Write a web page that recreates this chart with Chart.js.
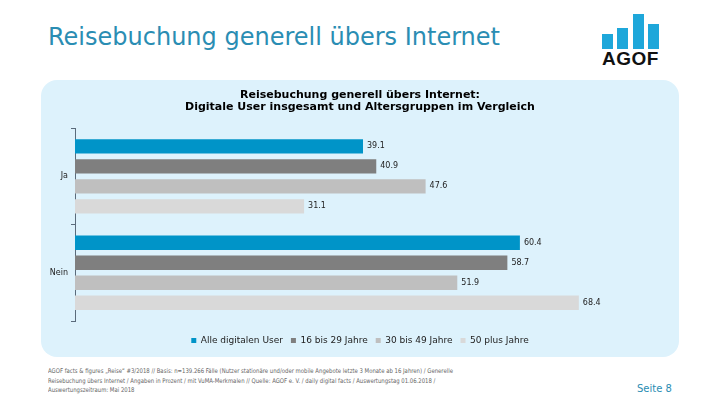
<!DOCTYPE html>
<html>
<head>
  <title>Reisebuchung generell übers Internet</title>
  <script src="https://cdn.jsdelivr.net/npm/chart.js"></script>
  <style>
    body { margin: 0; width: 720px; height: 405px; background: #fff; position: relative; overflow: hidden; font-family: "DejaVu Sans", sans-serif; }
    #pageTitle { position: absolute; left: 48px; top: 23px; font-size: 24px; color: #2a8db3; white-space: nowrap; }
    #panel { position: absolute; left: 41px; top: 80px; width: 638px; height: 277px; background: #ddf2fc; border-radius: 16px; }
    #chartBox { position: absolute; left: 41px; top: 80px; width: 638px; height: 277px; }
    .lb { position: absolute; background: #1ea7da; }
    #logoText { position: absolute; left: 602px; top: 48px; font-family: "Liberation Sans", Arial, sans-serif; font-weight: bold; font-size: 19px; letter-spacing: 0.5px; color: #111; }
    #footer { position: absolute; left: 48px; top: 367px; font-size: 6.4px; line-height: 9.5px; color: #666; white-space: nowrap; transform: scaleX(0.835); transform-origin: left top; }
    #seite { position: absolute; left: 637px; top: 383px; font-size: 10px; color: #2a8db3; }
  </style>
</head>
<body>
  <div id="pageTitle">Reisebuchung generell übers Internet</div>

  <!-- AGOF logo -->
  <div class="lb" style="left:602px; top:34px; width:11px; height:15px;"></div>
  <div class="lb" style="left:617px; top:28px; width:11px; height:21px;"></div>
  <div class="lb" style="left:633px; top:14px; width:11px; height:35px;"></div>
  <div class="lb" style="left:648px; top:24px; width:11px; height:25px;"></div>
  <div id="logoText">AGOF</div>

  <div id="panel"></div>
  <div id="chartBox"><canvas id="chart" width="638" height="277"></canvas></div>

  <div id="footer">AGOF facts &amp; figures „Reise“ #3/2018 // Basis: n=139.266 Fälle (Nutzer stationäre und/oder mobile Angebote letzte 3 Monate ab 16 Jahren) / Generelle<br>Reisebuchung übers Internet / Angaben in Prozent / mit VuMA-Merkmalen // Quelle: AGOF e. V. / daily digital facts / Auswertungstag 01.06.2018 /<br>Auswertungszeitraum: Mai 2018</div>
  <div id="seite">Seite 8</div>

  <script>
    const categories = ['Ja', 'Nein'];
    const seriesNames = ['Alle digitalen User', '16 bis 29 Jahre', '30 bis 49 Jahre', '50 plus Jahre'];
    const alleUser = [39.1, 60.4];
    const jahre16bis29 = [40.9, 58.7];
    const jahre30bis49 = [47.6, 51.9];
    const jahre50plus = [31.1, 68.4];
    const colors = ['#0094c8', '#7f7f7f', '#bfbfbf', '#d9d9d9'];

    // value labels at the end of each bar
    const valueLabels = {
      id: 'valueLabels',
      afterDatasetsDraw(chart) {
        const ctx = chart.ctx;
        ctx.save();
        ctx.font = '8px "DejaVu Sans"';
        ctx.fillStyle = '#222';
        ctx.textBaseline = 'middle';
        chart.data.datasets.forEach((ds, i) => {
          chart.getDatasetMeta(i).data.forEach((bar, j) => {
            ctx.fillText(ds.data[j].toFixed(1), bar.x + 4, bar.y);
          });
        });
        ctx.restore();
      }
    };

    const allSeries = [alleUser, jahre16bis29, jahre30bis49, jahre50plus];

    new Chart(document.getElementById('chart'), {
      type: 'bar',
      data: {
        labels: categories,
        datasets: allSeries.map((d, i) => ({
          label: seriesNames[i],
          data: d,
          backgroundColor: colors[i],
          categoryPercentage: 0.83,
          barPercentage: 0.72
        }))
      },
      options: {
        indexAxis: 'y',
        responsive: false,
        animation: false,
        layout: { padding: { left: 0, right: 0, bottom: 2 } },
        scales: {
          // hidden x axis, only used as a gap above the legend
          x: {
            min: 0, max: 82,
            grid: { display: false },
            border: { display: false },
            ticks: { display: false },
            afterFit(s) { s.height = 7; }
          },
          y: {
            afterFit(s) { s.width = 34; },
            border: { color: '#5a6b7b', width: 1 },
            grid: { drawOnChartArea: false, tickLength: 4, color: '#5a6b7b' },
            ticks: { color: '#222', font: { family: 'DejaVu Sans', size: 8 }, padding: 3 }
          }
        },
        plugins: {
          title: {
            display: true,
            text: ['Reisebuchung generell übers Internet:', 'Digitale User insgesamt und Altersgruppen im Vergleich'],
            color: '#000',
            font: { family: 'DejaVu Sans', size: 11, weight: 'bold', lineHeight: 1.1 },
            padding: { top: 9, bottom: 15 }
          },
          legend: {
            position: 'bottom',
            labels: {
              boxWidth: 5,
              boxHeight: 5,
              padding: 8,
              color: '#222',
              font: { family: 'DejaVu Sans', size: 9 }
            }
          },
          tooltip: { enabled: false }
        }
      },
      plugins: [valueLabels]
    });
  </script>
</body>
</html>
